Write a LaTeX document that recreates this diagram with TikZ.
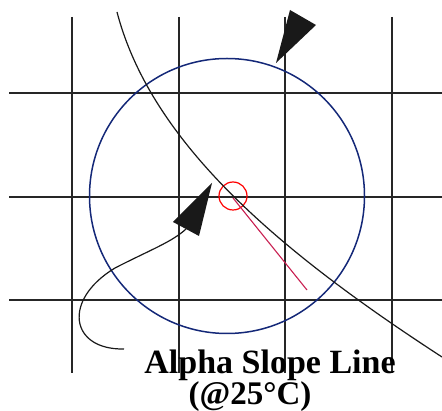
\documentclass[tikz,border=0pt]{standalone}
\usepackage{fontspec}
\setmainfont{Liberation Serif}
\usetikzlibrary{positioning}

\definecolor{circblue}{RGB}{20,40,120}
\definecolor{pinred}{RGB}{200,30,80}

\begin{document}
\begin{tikzpicture}[
    x=1pt, y=-1pt,
    gridline/.style={line width=1.5pt, black!85},
    slope/.style={line width=1.2pt, black!90},
    bigcirc/.style={line width=1.5pt, circblue},
    spot/.style={line width=1.2pt, red},
    ray/.style={line width=1.1pt, pinred},
    pointer/.style={fill=black!90, draw=none},
    caption/.style={font=\bfseries\fontsize{34}{30}\selectfont, inner sep=0pt, anchor=base}
]
\useasboundingbox (0,0) rectangle (442,411);

% ============================================================
% GRID
% ============================================================
\foreach \xx in {72,179,285,392}
    \draw[gridline] (\xx,17) -- (\xx,373);
\foreach \yy in {93,197,300}
    \draw[gridline] (9,\yy) -- (442,\yy);

% ============================================================
% CIRCLES
% ============================================================
\coordinate (ctr) at (227,196);
\coordinate (hit) at (233,196);
\draw[bigcirc] (ctr) circle[radius=137.5];
\draw[spot] (hit) circle[radius=14];

% ============================================================
% SLOPE LINE
% ============================================================
\coordinate (top) at (117,12);
\coordinate (btm) at (442,357);
\draw[slope] (top) .. controls (152,146) and (285,255) .. (btm);
\coordinate (rayend) at (307,290);
\draw[ray] (233,198) -- (rayend);

% ============================================================
% POINTERS
% ============================================================
\filldraw[pointer] (276,63) -- (290,10) -- (316,25) -- cycle;
\filldraw[pointer] (212,183) -- (173,222) -- (199,236) -- cycle;
\coordinate (tail) at (124,349);
\draw[slope] (tail) .. controls (70,350) and (62,300) .. (115,268)
    .. controls (150,250) and (172,242) .. (186,229);

% ============================================================
% LABEL
% ============================================================
\node[caption] (lbl) at (270,374) {Alpha Slope Line};
\node[caption, font=\bfseries\fontsize{33}{30}\selectfont] (temp) at (250,405) {(@25°C)};

\end{tikzpicture}
\end{document}
